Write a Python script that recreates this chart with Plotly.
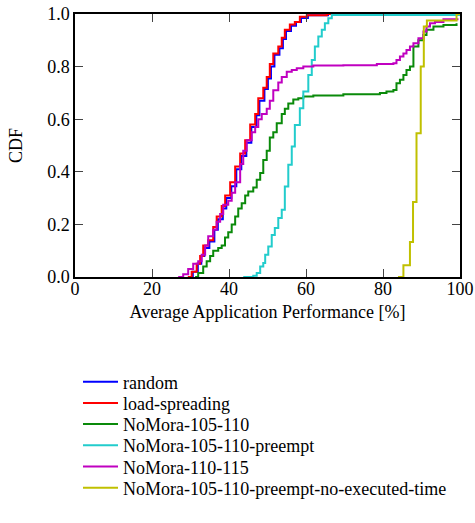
import plotly.graph_objects as go

# ---- data ----
names = ["random", "load-spreading", "NoMora-105-110", "NoMora-105-110-preempt",
         "NoMora-110-115", "NoMora-105-110-preempt-no-executed-time"]
colors = ["#0000ff", "#ff0000", "#0a8a0a", "#22cccc", "#c000c0", "#c0c000"]

random_x = [29.5, 30.6, 31.9, 32.8, 33.6, 34.9, 36.2, 37.1, 38.4, 39.3, 40.6, 41.9, 43.2,
            44.5, 45.8, 47.1, 47.9, 49.2, 50.1, 50.9, 51.8, 53.1, 54.0, 54.8, 56.1, 57.4, 58.7, 60.5, 65.7, 100]
random_y = [0.0, 0.02, 0.05, 0.08, 0.11, 0.135, 0.18, 0.22, 0.26, 0.30, 0.345, 0.41, 0.46,
            0.51, 0.57, 0.615, 0.67, 0.715, 0.755, 0.80, 0.845, 0.87, 0.905, 0.935, 0.955, 0.97, 0.985, 0.995, 1.0, 1.0]

load_x = [29.3, 30.3, 31.6, 32.5, 33.3, 34.6, 35.9, 36.8, 38.1, 39.0, 40.3, 41.6, 42.9, 44.2,
          45.5, 46.8, 47.6, 48.9, 49.8, 50.6, 51.5, 52.8, 53.7, 54.5, 55.8, 57.1, 58.4, 60.2, 65.4, 100]
load_y = [0.0, 0.02, 0.05, 0.08, 0.12, 0.14, 0.19, 0.23, 0.27, 0.31, 0.36, 0.42, 0.47, 0.52,
          0.58, 0.62, 0.68, 0.72, 0.76, 0.81, 0.85, 0.876, 0.91, 0.94, 0.96, 0.97, 0.99, 0.995, 1.0, 1.0]

nm105_x = [31.2, 32.0, 33.3, 34.2, 35.1, 35.9, 37.2, 38.1, 38.96, 39.8, 40.7, 41.6, 42.4, 43.3,
           44.2, 45.0, 46.3, 47.2, 48.1, 48.9, 49.8, 50.6, 51.5, 52.4, 53.7, 54.5, 55.4, 56.7,
           58.0, 59.3, 61.9, 69.7, 79.2, 80.9, 82.7, 83.5, 84.4, 85.3, 86.1, 87.0, 87.9, 89.2,
           90.5, 91.3, 93.1, 95.7, 99.1]
nm105_y = [0.0, 0.015, 0.04, 0.06, 0.08, 0.10, 0.11, 0.12, 0.15, 0.17, 0.20, 0.23, 0.26, 0.28,
           0.31, 0.325, 0.34, 0.37, 0.395, 0.445, 0.48, 0.53, 0.55, 0.585, 0.62, 0.64, 0.66, 0.675,
           0.68, 0.686, 0.69, 0.695, 0.70, 0.705, 0.711, 0.737, 0.75, 0.768, 0.787, 0.80, 0.876, 0.90,
           0.92, 0.94, 0.952, 0.958, 0.965]

pre_x = [43.7, 46.3, 47.2, 48.1, 48.9, 49.4, 50.2, 51.1, 51.9, 52.8, 53.7, 54.5, 55.4, 56.3,
         57.1, 58.4, 59.3, 60.6, 61.5, 62.3, 63.2, 64.1, 64.9, 65.8, 66.7, 100]
pre_y = [0.0, 0.005, 0.015, 0.04, 0.053, 0.085, 0.116, 0.16, 0.186, 0.224, 0.256, 0.344, 0.427,
         0.496, 0.578, 0.642, 0.705, 0.768, 0.825, 0.876, 0.914, 0.94, 0.965, 0.984, 0.996, 0.996]

nm110_x = [26.8, 28.1, 29.4, 30.7, 32.0, 32.9, 33.8, 34.6, 35.9, 36.8, 37.7, 38.5, 39.8, 40.7,
           41.6, 42.9, 43.7, 44.6, 45.9, 46.8, 47.6, 48.5, 49.8, 50.6, 51.5, 52.8, 53.7, 55.0,
           56.3, 57.6, 59.3, 61.9, 69.7, 78.4, 82.7, 83.5, 84.4, 85.3, 86.1, 87.0, 87.9, 89.2,
           90.5, 91.3, 92.2, 93.5, 95.7, 99.6]
nm110_y = [0.0, 0.01, 0.03, 0.05, 0.06, 0.085, 0.12, 0.155, 0.18, 0.21, 0.24, 0.275, 0.29, 0.32,
           0.36, 0.43, 0.48, 0.52, 0.55, 0.57, 0.60, 0.62, 0.64, 0.67, 0.71, 0.74, 0.76, 0.78,
           0.787, 0.794, 0.80, 0.804, 0.805, 0.81, 0.813, 0.825, 0.838, 0.85, 0.863, 0.876, 0.889, 0.908,
           0.933, 0.952, 0.965, 0.97, 0.98, 0.98]

noexec_x = [83.9, 85.3, 87.0, 87.8, 88.7, 89.8, 90.6, 91.4, 99.1, 100]
noexec_y = [0.0, 0.045, 0.133, 0.285, 0.547, 0.80, 0.952, 0.975, 1.0, 1.0]

series = [(random_x, random_y), (load_x, load_y), (nm105_x, nm105_y),
          (pre_x, pre_y), (nm110_x, nm110_y), (noexec_x, noexec_y)]

FONT = "Liberation Serif, Times New Roman, Times, serif"

W, H = 475, 523
ML, MR, MT, MB = 75, 15, 14, 246
plot_h = H - MT - MB
plot_w = W - ML - MR

fig = go.Figure()
legend_layouts = {}
row0, row_gap = 382, 21.2
for i, (name, color, (xs, ys)) in enumerate(zip(names, colors, series)):
    lname = "legend" if i == 0 else f"legend{i + 1}"
    fig.add_trace(go.Scatter(x=xs, y=ys, mode="lines", name=name, legend=lname,
                             line=dict(color=color, width=2, shape="hv")))
    row_y = row0 + i * row_gap
    legend_layouts[lname] = dict(
        x=3 / plot_w, xanchor="left",
        y=(H - MB - row_y) / plot_h, yanchor="middle",
        font=dict(family=FONT, size=18, color="black"),
        bgcolor="rgba(0,0,0,0)", itemwidth=35,
    )

axis_common = dict(showline=True, linecolor="black", linewidth=1.5, mirror="ticks",
                   ticks="inside", ticklen=8, tickwidth=1, tickcolor="#444",
                   showgrid=False, zeroline=False, automargin=False,
                   tickfont=dict(family=FONT, size=18, color="black"))

fig.update_layout(
    width=W, height=H,
    margin=dict(l=ML, r=MR, t=MT, b=MB, autoexpand=False),
    paper_bgcolor="white", plot_bgcolor="white",
    font=dict(family=FONT, color="black"),
    xaxis=dict(range=[0, 100], tickvals=[0, 20, 40, 60, 80, 100], ticklabelstandoff=-5,
               title=dict(text="Average Application Performance [%]", font=dict(size=18), standoff=7),
               **axis_common),
    yaxis=dict(range=[0, 1], tickvals=[0, 0.2, 0.4, 0.6, 0.8, 1.0], tickformat=".1f",
               title=dict(text="CDF", font=dict(size=18), standoff=20),
               **axis_common),
    showlegend=True,
    **legend_layouts,
)

fig.write_html("out.html")
